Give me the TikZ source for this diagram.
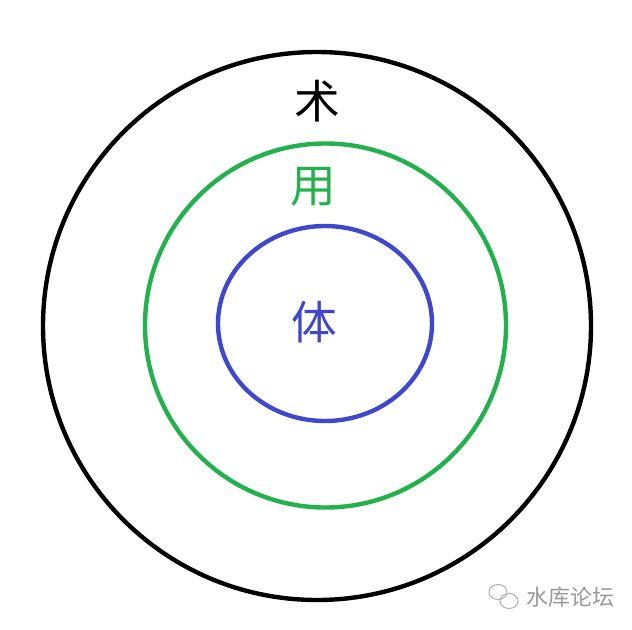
\documentclass[tikz,border=0pt]{standalone}
\usepackage{fontspec}
\newfontfamily\cjk{Noto Sans CJK SC}
\definecolor{paintgreen}{RGB}{34,177,76}
\definecolor{paintblue}{RGB}{63,72,204}
\tikzset{ring/.style={line width=2.5pt},
         word/.style={font=\cjk\fontsize{26}{26}\selectfont, inner sep=0pt}}

\begin{document}
\begin{tikzpicture}[x=0.02cm, y=-0.02cm]
        \useasboundingbox (0,0) rectangle (632,629);
        \fill [white] (0,0) rectangle (632,629);
%        \draw [help lines] (0,0) grid [step=50] (632,629);
        \draw [ring, black] (317,326) circle [radius=274];
        \draw [ring, paintgreen] (325.5,325.5) ellipse [x radius=180.5, y radius=182];
        \draw [ring, paintblue] (325,323.5) ellipse [x radius=107, y radius=97.5];
        \node [word, text=black] (shu) at (317,101) {术};
        \node [word, text=paintgreen] (yong) at (313,187) {用};
        \node [word, text=paintblue] (ti) at (314,322) {体};
        % watermark
        \node [font=\cjk\fontsize{12.5}{12.5}\selectfont, text=black!40, inner sep=0pt, right] (mark) at (526,597) {水库论坛};
        \draw [black!30, line width=0.6pt] (498,592) ellipse [x radius=9, y radius=7.5];
        \draw [black!30, line width=0.6pt] (509,601) ellipse [x radius=9, y radius=7.5];
\end{tikzpicture}
\end{document}
